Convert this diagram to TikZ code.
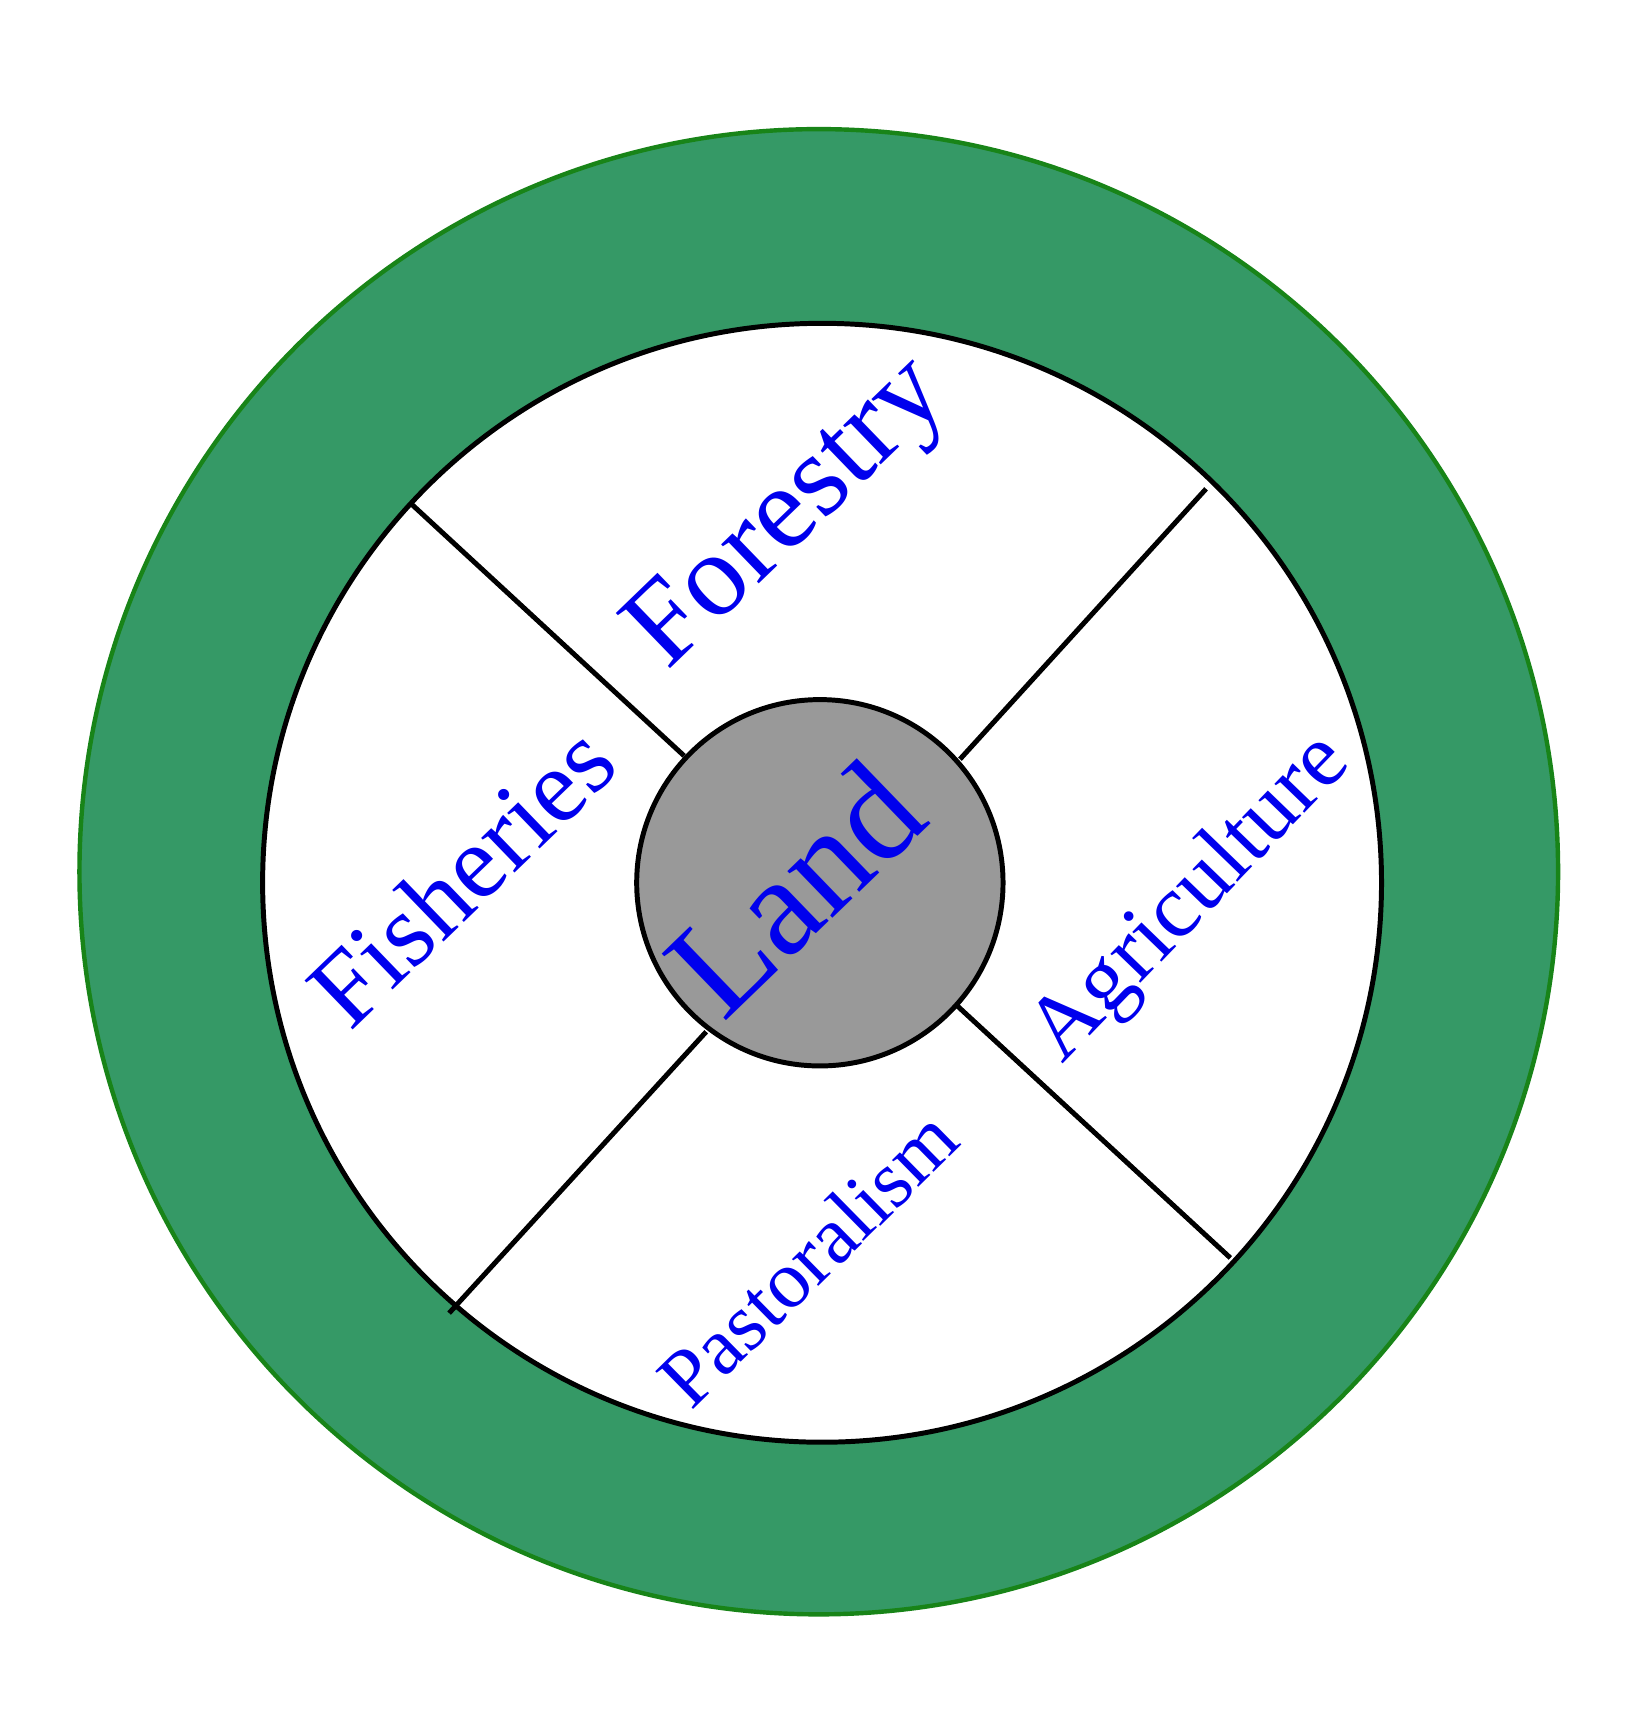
\documentclass[tikz,border=0pt]{standalone}
\usepackage{fontspec}
\setmainfont{Liberation Serif}
\begin{document}
\begin{tikzpicture}[x=1pt,y=-1pt,
  lab/.style={text=blue!93!black,inner sep=0pt,anchor=center},
  spoke/.style={line width=4.5pt,black}]
\useasboundingbox (0,0) rectangle (1475,1566);
\definecolor{ring}{HTML}{359966}
\definecolor{ringedge}{HTML}{188418}
\fill[white] (0,0) rectangle (1475,1566);
\draw[fill=ring,draw=ringedge,line width=4pt] (742,790) ellipse [x radius=670,y radius=673];
\node[circle,draw=black,line width=4.5pt,fill=white,minimum size=1014pt,inner sep=0pt] (inner) at (745,800) {};
\coordinate (a1) at (372,456); \coordinate (a2) at (1093,443);
\coordinate (a3) at (407,1190); \coordinate (a4) at (1115,1140);
\node[circle,draw=black,line width=4.5pt,fill=black!40,minimum size=332pt,inner sep=0pt] (land) at (743,800) {};
\draw[spoke] (a1) -- (620,685);
\draw[spoke] (a2) -- (870,688);
\draw[spoke] (a3) -- (640,935);
\draw[spoke] (a4) -- (868,912);
\node[lab,rotate=44,font=\fontsize{107}{107}\selectfont] (f) at (717,468) {Forestry};
\node[lab,rotate=44,font=\fontsize{128}{128}\selectfont] (l) at (720,805) {Land};
\node[lab,rotate=44,font=\fontsize{95}{95}\selectfont] (fi) at (418,793) {Fisheries};
\node[lab,rotate=46,font=\fontsize{82}{82}\selectfont] (ag) at (1080,815) {Agriculture};
\node[lab,rotate=44.5,font=\fontsize{74}{74}\selectfont] (p) at (732,1140) {Pastoralism};
\end{tikzpicture}
\end{document}
